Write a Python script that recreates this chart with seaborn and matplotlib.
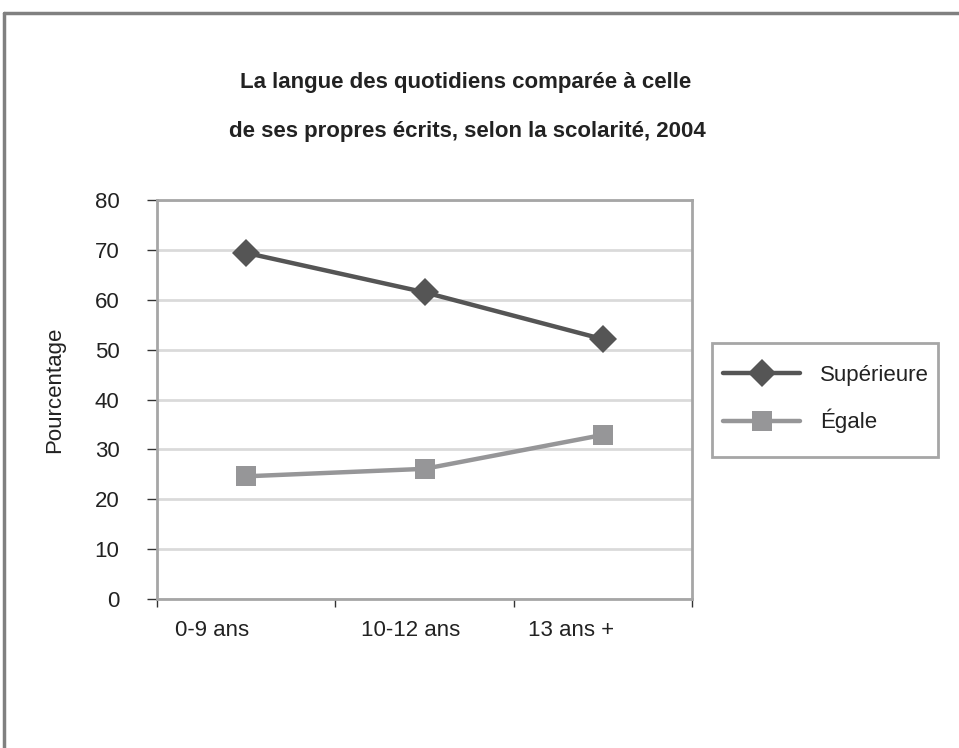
import matplotlib
matplotlib.use("Agg")
import matplotlib.pyplot as plt
import seaborn as sns
import pandas as pd
from matplotlib import font_manager
from matplotlib.lines import Line2D
from matplotlib.patches import Rectangle

# data
categories = ["0-9 ans", "10-12 ans", "13 ans +"]
superieure = [69.4, 61.5, 52.1]
egale = [24.6, 26.1, 32.9]
series_names = ["Supérieure", "Égale"]
title_lines = ["La langue des quotidiens comparée à celle",
               "de ses propres écrits, selon la scolarité, 2004"]

rows = []
for name, vals in zip(series_names, [superieure, egale]):
    for cat, v in zip(categories, vals):
        rows.append({"Scolarité": cat, "Pourcentage": v, "Série": name})
df = pd.DataFrame(rows)

sns.set_style("white")

# the original uses a narrow Arial; use the narrow Liberation face if present
installed = {f.name for f in font_manager.fontManager.ttflist}
if "Liberation Sans Narrow" in installed:
    family = "Liberation Sans Narrow"
    fs, tfs = 19, 19
else:
    family = "Liberation Sans"
    fs, tfs = 16, 16
plt.rcParams["font.family"] = [family, "DejaVu Sans"]

dark = "#555555"
light = "#969698"
frame = "#a6a6a6"
txt = "#222222"

fig = plt.figure(figsize=(9.59, 7.48), dpi=100)
ax = fig.add_axes([0.1637, 0.1992, 0.5579, 0.5334])

sns.lineplot(data=df, x="Scolarité", y="Pourcentage", hue="Série", style="Série",
             markers=["D", "s"], dashes=False, palette=[dark, light],
             linewidth=3.2, markersize=14, markeredgewidth=0, ax=ax, legend=False)

ax.set_xlim(-0.5, 2.5)
ax.set_ylim(0, 80)
ax.set_yticks(range(0, 81, 10))
ax.yaxis.grid(True, color="#dadada", linewidth=2)
ax.set_axisbelow(True)
for s in ax.spines.values():
    s.set_color(frame)
    s.set_linewidth(2)

ax.tick_params(axis="y", which="major", length=7, width=1, color="#333333",
               labelsize=fs, pad=20, left=True, labelcolor=txt)

# category boundaries as tick marks, labels placed as in the original
ax.set_xticks([-0.5, 0.5, 1.5, 2.5], minor=True)
ax.tick_params(axis="x", which="minor", length=6, width=1, color="#333333", bottom=True)
ax.set_xticks([-0.19, 0.92, 1.82])
ax.set_xticklabels(categories)
ax.tick_params(axis="x", which="major", length=0, pad=15, labelsize=fs, labelcolor=txt)
ax.set_xlabel("")
ax.set_ylabel("Pourcentage", fontsize=fs, color=txt)
ax.yaxis.set_label_coords(-0.172, 0.524)

fig.text(0.486, 1 - 88 / 748, title_lines[0], ha="center", va="baseline",
         fontsize=tfs, fontweight="bold", color=txt)
fig.text(0.487, 1 - 137 / 748, title_lines[1], ha="center", va="baseline",
         fontsize=tfs, fontweight="bold", color=txt)

# legend: entries without frame, box drawn separately
handles = [Line2D([], [], color=dark, lw=3.2, marker="D", markersize=14, markeredgewidth=0),
           Line2D([], [], color=light, lw=3.2, marker="s", markersize=14, markeredgewidth=0)]
fig.legend(handles, series_names, loc="center left",
           bbox_to_anchor=(723 / 959, 1 - 399 / 748),
           bbox_transform=fig.transFigure, frameon=False,
           fontsize=fs, handlelength=3.47, labelspacing=1.04, borderpad=0,
           borderaxespad=0, handletextpad=0.9, labelcolor=txt)
fig.add_artist(Rectangle((712 / 959, 1 - 457 / 748), 226 / 959, 114 / 748,
                         transform=fig.transFigure, fill=False,
                         edgecolor=frame, linewidth=2))

# outer frame (top and left edges visible)
fig.add_artist(Line2D([0.0042, 1.0], [0.9826, 0.9826], color="#808080", lw=2.5,
                      transform=fig.transFigure))
fig.add_artist(Line2D([0.0042, 0.0042], [0.0, 0.9826], color="#808080", lw=2.5,
                      transform=fig.transFigure))

fig.savefig("out.png", dpi=100)
